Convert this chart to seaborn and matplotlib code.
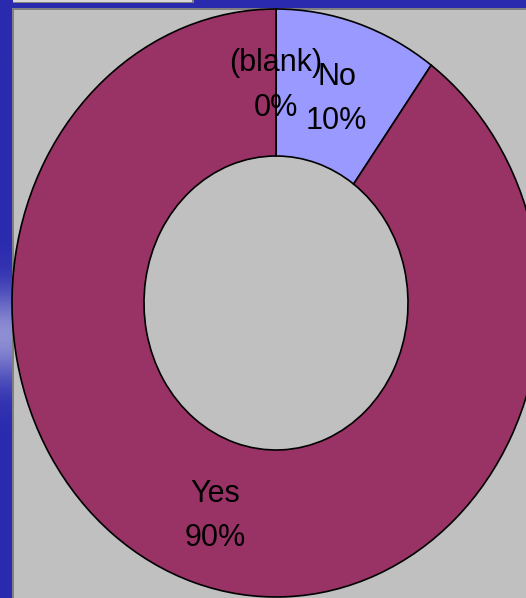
import numpy as np
import matplotlib
matplotlib.use("Agg")
import matplotlib.pyplot as plt
import seaborn as sns
from matplotlib.patches import Rectangle

# ---- data ----
categories = ["(blank)", "No", "Yes"]
values = [0, 10, 90]
pct_labels = ["0%", "10%", "90%"]
colors = ["#FFFFFF", "#9999FF", "#993366"]

sns.set_style("white")
plt.rcParams["font.family"] = ["Liberation Sans", "DejaVu Sans"]

W, H = 526, 598
fig = plt.figure(figsize=(W / 100, H / 100), dpi=100)
fig.patch.set_facecolor("#2A2AAE")

# left strip gradient (lighter band)
gax = fig.add_axes([0, 0, 12 / W, 1])
rows = np.arange(H)
light = np.exp(-((rows - 335) / 45.0) ** 2)
base = np.array([0x2A, 0x2A, 0xAE]) / 255
hi = np.array([0x8E, 0x8E, 0xD4]) / 255
grad = base[None, :] * (1 - light[:, None]) + hi[None, :] * light[:, None]
gax.imshow(grad[:, None, :], aspect="auto", extent=(0, 1, H, 0))
gax.set_xlim(0, 1); gax.set_ylim(H, 0)
gax.axis("off")

# gray panel and small top box (figure pixel coordinates)
def fig_rect(x0, y0, x1, y1, **kw):
    fig.patches.append(Rectangle((x0 / W, 1 - y1 / H), (x1 - x0) / W, (y1 - y0) / H,
                                 transform=fig.transFigure, figure=fig, zorder=-5, **kw))

fig_rect(12, 8, W, H, facecolor="#808080", edgecolor="none")
fig_rect(14, 10, W, H, facecolor="#C0C0C0", edgecolor="none")
fig_rect(13, 0, 194, 3, facecolor="#808080", edgecolor="none")
fig_rect(13, 0, 192, 2, facecolor="#D8D8D8", edgecolor="none")

# donut axes: ellipse centred at (276, 303) px, radii 264 (x) x 294 (y)
cx, cy, rx, ry = 276, 303, 264, 294
ax = fig.add_axes([0, 0, 1, 1], zorder=2)
ax.patch.set_alpha(0)
wedges, _ = ax.pie(values, colors=colors, startangle=90, counterclock=False,
                   radius=1.0, wedgeprops=dict(width=0.5, edgecolor="black", linewidth=1.2))
ax.set_aspect("auto")
ax.set_xlim(-cx / rx, (W - cx) / rx)
ax.set_ylim(-(H - cy) / ry, cy / ry)
ax.axis("off")

# labels at wedge mid-angles
total = sum(values)
angle = 90.0
for cat, v, p in zip(categories, values, pct_labels):
    span = 360.0 * v / total
    mid = np.deg2rad(angle - span / 2)
    angle -= span
    x, y = 0.745 * np.cos(mid), 0.745 * np.sin(mid) - 0.015
    if v == 0:
        y += 0.01
    ax.text(x, y, f"{cat}\n{p}", ha="center", va="center", fontsize=22,
            linespacing=1.62, color="black")

fig.savefig("out.png", dpi=100)
